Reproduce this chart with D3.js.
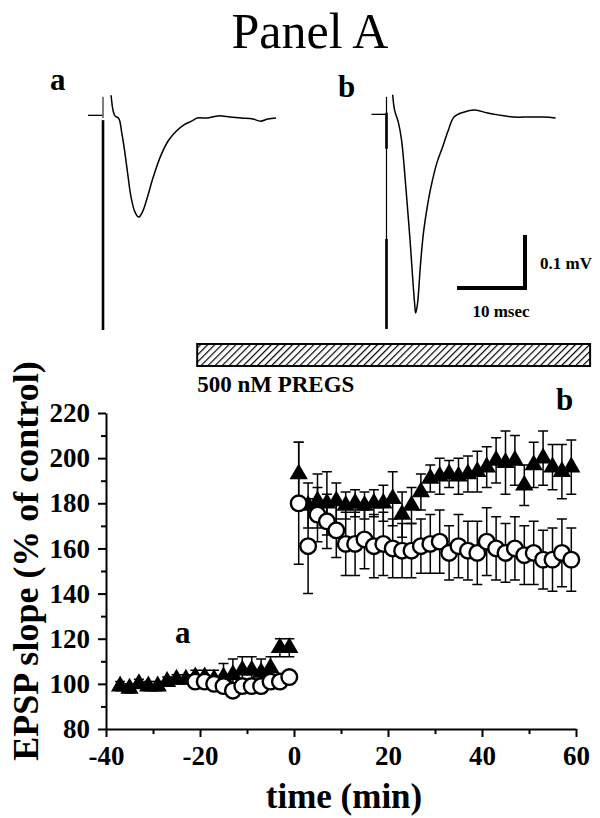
<!DOCTYPE html>
<html>
<head>
<meta charset="utf-8">
<script src="https://cdn.jsdelivr.net/npm/d3@7"></script>
<style>
  body { margin: 0; background: #fff; }
  svg { display: block; }
  text { font-family: "Liberation Serif", "Times New Roman", serif; fill: #000; }
</style>
</head>
<body>
<div id="chart"></div>
<script>
// ---- data: EPSP slope (% of control) vs time (min) ----
const triTime = [-37, -35, -33, -31, -29, -27, -25, -23, -21, -19, -17, -15, -13, -11, -9, -7, -5, -3, -1,
  1, 3, 5, 7, 9, 11, 13, 15, 17, 19, 21, 23, 25, 27, 29, 31, 33, 35, 37, 39, 41, 43, 45, 47, 49, 51, 53, 55, 57, 59];
const triMean = [99, 98, 100, 99, 99, 101, 102, 102, 103, 103, 102, 103, 104, 106, 106, 105, 107, 116, 116,
  193, 179, 181, 180, 181, 179, 180, 179, 180, 180, 182, 175, 179, 185, 191, 192, 193, 192, 193, 194, 196, 199, 198, 199, 188, 197, 200, 196, 194, 196];
const triErr = [2, 2, 2, 2, 2, 2, 2, 2, 3, 3, 4, 6, 7, 6, 6, 6, 5, 4, 4,
  14, 10, 12, 14, 8, 6, 6, 6, 6, 8, 12, 10, 8, 8, 6, 8, 6, 8, 8, 9, 9, 10, 14, 11, 9, 10, 12, 10, 12, 12];

const circTime = [-21, -19, -17, -15, -13, -11, -9, -7, -5, -3, -1,
  1, 3, 5, 7, 9, 11, 13, 15, 17, 19, 21, 23, 25, 27, 29, 31, 33, 35, 37, 39, 41, 43, 45, 47, 49, 51, 53, 55, 57, 59];
const circMean = [101, 101, 100, 99, 97, 99, 99, 99, 101, 101, 103,
  180, 161, 175, 172, 168, 162, 162, 164, 161, 162, 160, 159, 159, 161, 162, 163, 158, 161, 159, 158, 163, 160, 158, 160, 157, 158, 155, 155, 158, 155];
const circErr = [2, 2, 2, 2, 2, 3, 3, 3, 3, 2, 2,
  27, 21, 12, 12, 12, 14, 14, 13, 14, 14, 13, 12, 12, 12, 13, 14, 12, 14, 13, 14, 15, 14, 13, 14, 13, 14, 13, 14, 15, 14];

const xTicks = [-40, -20, 0, 20, 40, 60];
const xMinor = [-30, -10, 10, 30, 50];
const yTicks = [80, 100, 120, 140, 160, 180, 200, 220];
const yMinor = [90, 110, 130, 150, 170, 190, 210];

const drugSpan = [-20.6, 63];   // hatched bar, in minutes
const drugLabel = "500 nM PREGS";

// ---- sample traces (ms after stimulus, mV) ----
const traceAms = [1.19, 1.47, 1.76, 2.32, 2.76, 3.16, 3.62, 4.12, 4.69, 5.25, 5.81, 6.54, 7.4, 8.53, 9.65, 10.76, 11.9, 13.03, 13.87, 15.29, 16.97, 18.68, 20.35, 22.06, 23.16, 24.26, 25.44];
const traceAmV = [0.043, 0.015, 0.004, -0.001, -0.028, -0.06, -0.104, -0.149, -0.177, -0.187, -0.177, -0.149, -0.111, -0.07, -0.042, -0.025, -0.013, -0.006, 0, 0, 0.004, 0.002, 0, -0.002, -0.006, -0.002, 0];
const traceBms = [0.91, 1.19, 1.76, 2.21, 2.6, 3.0, 3.46, 3.84, 4.13, 4.29, 4.57, 4.97, 5.43, 5.99, 6.54, 7.4, 8.24, 9.09, 9.93, 11.34, 13.01, 14.72, 16.4, 18.66, 20.91, 23.16, 24.87];
const traceBmV = [0.042, 0.013, -0.011, -0.043, -0.094, -0.157, -0.232, -0.302, -0.351, -0.37, -0.351, -0.283, -0.219, -0.17, -0.132, -0.087, -0.057, -0.025, 0, 0.009, 0.013, 0.008, 0.004, 0, 0, 0, -0.002];
// stimulus artifact pieces: [from mV, to mV, stroke width]
const artifactA = [[0.04, 0, 1], [-0.004, -0.4, 2.6]];
const artifactB = [[0.038, -0.4, 1.2], [0.008, -0.06, 2.6], [-0.23, -0.4, 2.6]];
const preBase = [-2.2, -0.1];

const W = 600, H = 818;
const svg = d3.select("#chart").append("svg").attr("width", W).attr("height", H);

const x = d3.scaleLinear().domain([-40, 60]).range([106, 576]);
const y = d3.scaleLinear().domain([80, 220]).range([729, 413]);

// title
svg.append("text").attr("x", 310).attr("y", 48).attr("text-anchor", "middle")
  .attr("font-size", 50).text("Panel A");

// ---- traces ----
const tx = d3.scaleLinear().domain([0, 10]).range([0, 68]);
const ty = d3.scaleLinear().domain([0, -0.1]).range([0, 53]);
const line = d3.line().x(d => tx(d[0])).y(d => ty(d[1])).curve(d3.curveCatmullRom);

function drawTrace(ox, oy, ms, mv, art) {
  const g = svg.append("g").attr("transform", `translate(${ox},${oy})`);
  g.append("path").datum(d3.zip(ms, mv)).attr("d", line)
    .attr("fill", "none").attr("stroke", "#000").attr("stroke-width", 1.5);
  g.append("line").attr("x1", tx(preBase[0])).attr("x2", tx(preBase[1]))
    .attr("y1", ty(0.005)).attr("y2", ty(0.005)).attr("stroke", "#000").attr("stroke-width", 1.3);
  art.forEach(a => {
    g.append("line").attr("x1", 0).attr("x2", 0).attr("y1", ty(a[0])).attr("y2", ty(a[1]))
      .attr("stroke", "#000").attr("stroke-width", a[2]);
  });
  return g;
}
drawTrace(103, 118, traceAms, traceAmV, artifactA);
drawTrace(386.5, 117, traceBms, traceBmV, artifactB);

svg.append("text").attr("x", 50).attr("y", 90).attr("font-size", 31).attr("font-weight", "bold").text("a");
svg.append("text").attr("x", 338).attr("y", 97).attr("font-size", 31).attr("font-weight", "bold").text("b");

// scale bar
const sb = svg.append("g").attr("transform", "translate(525,288)");
sb.append("path").attr("d", `M${tx(-10)},0H0V${ty(0.1)}`)
  .attr("fill", "none").attr("stroke", "#000").attr("stroke-width", 4);
svg.append("text").attr("x", 540).attr("y", 269).attr("font-size", 17).attr("font-weight", "bold").text("0.1 mV");
svg.append("text").attr("x", 501).attr("y", 317).attr("text-anchor", "middle")
  .attr("font-size", 17).attr("font-weight", "bold").text("10 msec");

// ---- drug bar ----
const defs = svg.append("defs");
defs.append("pattern").attr("id", "hatch").attr("patternUnits", "userSpaceOnUse")
  .attr("width", 5).attr("height", 5).attr("patternTransform", "rotate(45)")
  .append("line").attr("x1", 0).attr("y1", 0).attr("x2", 0).attr("y2", 5)
  .attr("stroke", "#000").attr("stroke-width", 2.4);
svg.append("rect").attr("x", x(drugSpan[0])).attr("y", 344)
  .attr("width", x(drugSpan[1]) - x(drugSpan[0])).attr("height", 22)
  .attr("fill", "url(#hatch)").attr("stroke", "#000").attr("stroke-width", 2);
svg.append("text").attr("x", x(drugSpan[0])).attr("y", 392).attr("font-size", 23)
  .attr("font-weight", "bold").text(drugLabel);

// ---- axes ----
function styleAxis(g) {
  g.attr("font-family", null).attr("font-size", null);
  g.selectAll("path, line").attr("stroke", "#000").attr("stroke-width", 2);
  g.selectAll("text").attr("font-size", 27).attr("font-weight", "bold");
}
svg.append("g").attr("transform", `translate(${x(-40)},0)`)
  .call(d3.axisLeft(y).tickValues(yTicks).tickSize(8).tickSizeOuter(0).tickPadding(8))
  .call(styleAxis);
svg.append("g").attr("transform", `translate(${x(-40)},0)`)
  .call(d3.axisLeft(y).tickValues(yMinor).tickSize(5).tickFormat(""))
  .call(g => g.select(".domain").remove()).call(styleAxis);
svg.append("g").attr("transform", `translate(0,${y(80)})`)
  .call(d3.axisBottom(x).tickValues(xTicks).tickSize(8).tickSizeOuter(0).tickPadding(9)
    .tickFormat(d => String(d)))
  .call(styleAxis);
svg.append("g").attr("transform", `translate(0,${y(80)})`)
  .call(d3.axisBottom(x).tickValues(xMinor).tickSize(5).tickFormat(""))
  .call(g => g.select(".domain").remove()).call(styleAxis);

svg.append("text").attr("transform", `translate(38,561) rotate(-90)`).attr("text-anchor", "middle")
  .attr("font-size", 36).attr("font-weight", "bold").text("EPSP slope (% of control)");
svg.append("text").attr("x", 344).attr("y", 808).attr("text-anchor", "middle")
  .attr("font-size", 35).attr("font-weight", "bold").text("time (min)");

// ---- data marks ----
const tri = d3.zip(triTime, triMean, triErr);
const circ = d3.zip(circTime, circMean, circErr);
const capW = 5;

function errorBars(data) {
  const g = svg.append("g").attr("stroke", "#000").attr("stroke-width", 1.5).attr("fill", "none");
  g.selectAll("path").data(data).join("path")
    .attr("d", d => {
      const cx = x(d[0]), y1 = y(d[1] - d[2]), y2 = y(d[1] + d[2]);
      return `M${cx},${y1}V${y2}M${cx - capW},${y1}H${cx + capW}M${cx - capW},${y2}H${cx + capW}`;
    });
}
errorBars(circ);
errorBars(tri);

svg.append("g").selectAll("path").data(tri).join("path")
  .attr("transform", d => `translate(${x(d[0])},${y(d[1])})`)
  .attr("d", d3.symbol(d3.symbolTriangle, 145))
  .attr("fill", "#000");

svg.append("g").selectAll("circle").data(circ).join("circle")
  .attr("cx", d => x(d[0])).attr("cy", d => y(d[1])).attr("r", 7.8)
  .attr("fill", "#fff").attr("stroke", "#000").attr("stroke-width", 2.4);

svg.append("text").attr("x", 175).attr("y", 643).attr("font-size", 31).attr("font-weight", "bold").text("a");
svg.append("text").attr("x", 556).attr("y", 410).attr("font-size", 31).attr("font-weight", "bold").text("b");
</script>
</body>
</html>
